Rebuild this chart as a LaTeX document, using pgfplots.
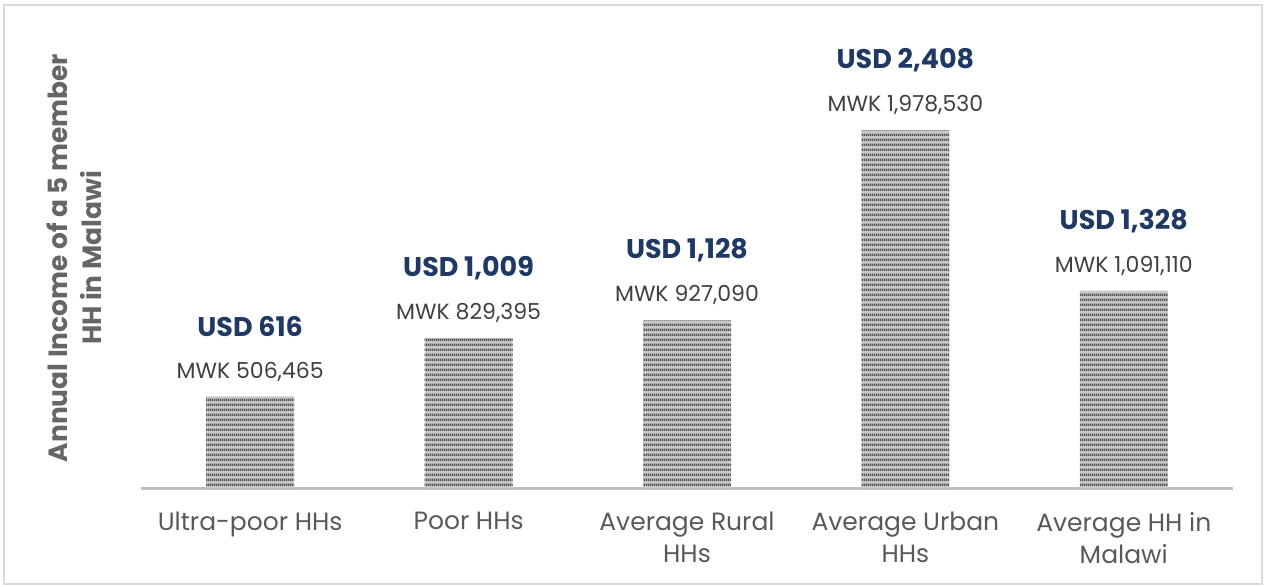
\documentclass[border=0pt]{standalone}
\usepackage{pgfplots}
\pgfplotsset{compat=1.18}
\usepackage{fontspec}
\setmainfont{Poppins}
\usetikzlibrary{patterns.meta}
\definecolor{usdblue}{HTML}{1F3864}
\definecolor{mwkgray}{HTML}{404040}
\definecolor{tickgray}{HTML}{595959}
\definecolor{labgray}{HTML}{666666}
\definecolor{axisgray}{HTML}{BFBFBF}
\definecolor{bargray}{HTML}{C8C8C8}
\definecolor{stripegray}{HTML}{555555}
\definecolor{framegray}{HTML}{D9D9D9}
\tikzdeclarepattern{
  name=hstripes,
  type=uncolored,
  bounding box={(0pt,0pt) and (1pt,2.4pt)},
  tile size={(1pt,2.4pt)},
  code={\fill (0pt,0pt) rectangle (1pt,1.2pt);}
}
\begin{document}
\begin{tikzpicture}
\begin{axis}[
  scale only axis, width=546pt, height=235pt,
  xmin=-0.5, xmax=4.5, ymin=0, ymax=2600000,
  axis x line=bottom, axis y line=none,
  x axis line style={-, draw=axisgray, line width=1.5pt},
  xtick={0,1,2,3,4},
  xticklabels={Ultra-poor HHs, Poor HHs, {Average Rural\\HHs}, {Average Urban\\HHs}, {Average HH in\\Malawi}},
  xtick style={draw=none},
  xticklabel style={align=center, anchor=north, yshift=-6.5pt, text=tickgray, font=\fontsize{12.5}{16}\selectfont},
  ytick=\empty,
  clip=false,
]
\addplot[ybar, bar width=44pt, bar shift=0pt, fill=bargray, draw=none,
  postaction={pattern=hstripes, pattern color=stripegray},
  point meta=explicit symbolic, nodes near coords,
  every node near coord/.append style={anchor=center, yshift=12.5pt, text=mwkgray, font=\fontsize{11}{13}\selectfont}]
  coordinates {
  (0,506465) [MWK 506,465]
  (1,829395) [MWK 829,395]
  (2,927090) [MWK 927,090]
  (3,1978530) [MWK 1,978,530]
  (4,1091110) [MWK 1,091,110]
};
\addplot[draw=none, mark=none,
  point meta=explicit symbolic, nodes near coords,
  every node near coord/.append style={anchor=center, yshift=35pt, text=usdblue, font=\bfseries\fontsize{13.5}{16}\selectfont}]
  coordinates {
  (0,506465) [USD 616]
  (1,829395) [USD 1,009]
  (2,927090) [USD 1,128]
  (3,1978530) [USD 2,408]
  (4,1091110) [USD 1,328]
};
\end{axis}
\node[rotate=90, align=center, text=labgray, font=\bfseries\fontsize{13.2}{17}\selectfont] at (-33.5pt,115pt) {Annual Income of a 5 member\\HH in Malawi};
\draw[framegray, line width=0.8pt] (-68.5pt,-48pt) rectangle (560.5pt,241.5pt);
\pgfresetboundingbox
\useasboundingbox (-70.5pt,-49pt) rectangle (561.5pt,244pt);
\end{tikzpicture}
\end{document}
